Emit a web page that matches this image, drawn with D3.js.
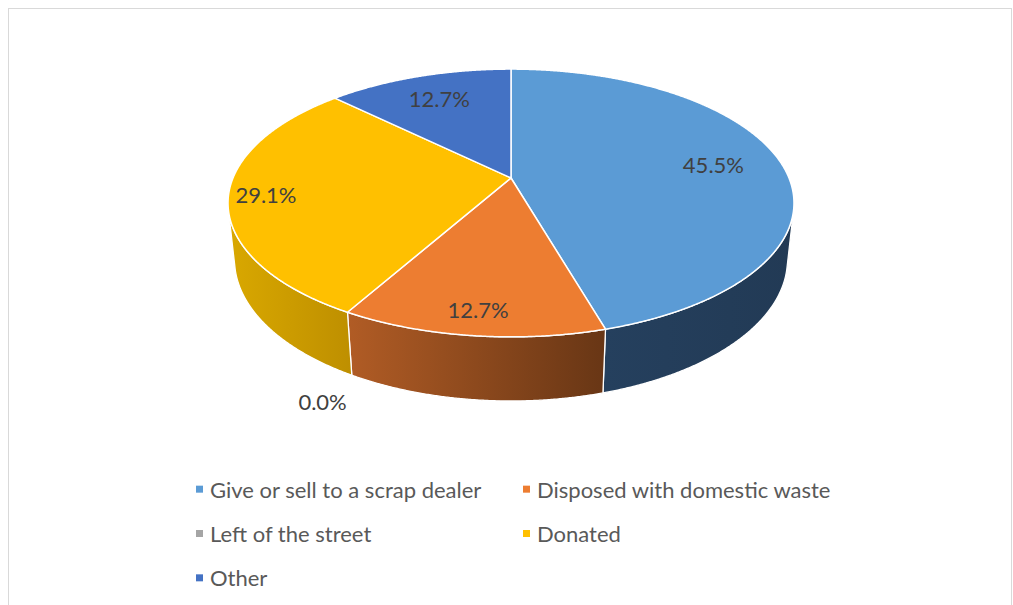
<!DOCTYPE html>
<html>
<head>
<meta charset="utf-8">
<script src="https://cdn.jsdelivr.net/npm/d3@7"></script>
<style>
  html, body { margin: 0; padding: 0; background: #ffffff; }
  svg { display: block; }
  text { font-family: Lato, "Open Sans", sans-serif; }
</style>
</head>
<body>
<svg id="chart" width="1013" height="605"></svg>
<script>
// Disposal of old items (share of respondents)
const categories = [
  "Give or sell to a scrap dealer",
  "Disposed with domestic waste",
  "Left of the street",
  "Donated",
  "Other"
];
const shares = [45.5, 12.7, 0.0, 29.1, 12.7];
const valueLabels = ["45.5%", "12.7%", "0.0%", "29.1%", "12.7%"];

const topColors  = ["#5B9BD5", "#ED7D31", "#A5A5A5", "#FFC000", "#4472C4"];
// side walls: light (left) to dark (right)
const sideColors = [
  ["#25405E", "#223A55"],
  ["#B15C25", "#683615"],
  ["#8C8C8C", "#6E6E6E"],
  ["#D9A800", "#BE8F00"],
  ["#3A62A8", "#2E4F88"]
];

const svg = d3.select("#chart");

// chart frame
svg.append("rect")
  .attr("x", 8.5).attr("y", 8.5)
  .attr("width", 1003).attr("height", 640)
  .attr("fill", "#ffffff")
  .attr("stroke", "#D9D9D9").attr("stroke-width", 1);

// --- perspective view of a tilted disc -------------------------------
const cx = 511, cy = 178;          // screen position of the pie centre
const R = 1;                       // disc radius (world units)
const dist = 4.744;                // camera distance
const focal = 1318.8;              // focal length in px
const tilt = 27.7 * Math.PI / 180; // elevation of the view
const thick = 0.2325;              // thickness of the pie
const sT = Math.sin(tilt), cT = Math.cos(tilt);

// a: angle clockwise from 12 o'clock, rho: radius fraction, h: height (0 = top)
function project(a, rho, h) {
  const x = R * rho * Math.sin(a);
  const yd = -R * rho * Math.cos(a);
  const Y = yd * sT - h * cT;
  const Z = dist - yd * cT - h * sT;
  return [cx + focal * x / Z, cy + focal * Y / Z];
}

// side wall faces the camera where cos(a) < -R/(dist*cos(tilt))
const visLimit = Math.acos(-R / (dist * cT));
const visMin = visLimit, visMax = 2 * Math.PI - visLimit;

const pie = d3.pie().sort(null).value(d => d)
  .startAngle(0).endAngle(2 * Math.PI);
const arcs = pie(shares);

const line = d3.line().curve(d3.curveLinear);
const step = Math.PI / 720;
function angleRange(a0, a1) {
  const n = Math.max(2, Math.ceil((a1 - a0) / step));
  return d3.range(n + 1).map(i => a0 + (a1 - a0) * i / n);
}

const defs = svg.append("defs");
sideColors.forEach((c, i) => {
  const g = defs.append("linearGradient")
    .attr("id", "side" + i)
    .attr("x1", 0).attr("y1", 0).attr("x2", 1).attr("y2", 0);
  g.append("stop").attr("offset", "0%").attr("stop-color", c[0]);
  g.append("stop").attr("offset", "100%").attr("stop-color", c[1]);
});

// side walls
const sideG = svg.append("g");
arcs.forEach((d, i) => {
  const a0 = Math.max(d.startAngle, visMin);
  const a1 = Math.min(d.endAngle, visMax);
  if (a1 - a0 <= 1e-6) return;
  const angs = angleRange(a0, a1);
  const pts = angs.map(a => project(a, 1, 0))
    .concat(angs.slice().reverse().map(a => project(a, 1, -thick)));
  sideG.append("path")
    .attr("d", line(pts) + "Z")
    .attr("fill", `url(#side${i})`)
    .attr("stroke", "#ffffff")
    .attr("stroke-width", 1.3)
    .attr("stroke-linejoin", "round");
});

// top faces
const topG = svg.append("g");
arcs.forEach((d, i) => {
  if (d.endAngle - d.startAngle <= 1e-6) return;
  const angs = angleRange(d.startAngle, d.endAngle);
  const pts = [project(0, 0, 0)].concat(angs.map(a => project(a, 1, 0)));
  topG.append("path")
    .attr("d", line(pts) + "Z")
    .attr("fill", topColors[i])
    .attr("stroke", "#ffffff")
    .attr("stroke-width", 1.5)
    .attr("stroke-linejoin", "round");
});

// data labels: radius fraction and level for each slice
const labelPlace = [
  { rho: 0.75, h: 0 },
  { rho: 0.86, h: 0 },
  { rho: 1.15, h: -thick },
  { rho: 0.87, h: 0 },
  { rho: 0.75, h: 0 }
];
const labelG = svg.append("g");
arcs.forEach((d, i) => {
  const mid = (d.startAngle + d.endAngle) / 2;
  const p = project(mid, labelPlace[i].rho, labelPlace[i].h);
  labelG.append("text")
    .attr("x", p[0]).attr("y", p[1])
    .attr("text-anchor", "middle")
    .attr("dominant-baseline", "central")
    .attr("font-size", 22)
    .attr("fill", "#404040")
    .text(valueLabels[i]);
});

// legend, two columns
const legendX = [196, 523];
const legendY = d3.scaleBand().domain(d3.range(3)).range([467, 600]);
const legend = svg.append("g");
categories.forEach((name, i) => {
  const col = i % 2, row = Math.floor(i / 2);
  const x = legendX[col];
  const y = legendY(row) + legendY.bandwidth() / 2;
  legend.append("rect")
    .attr("x", x).attr("y", y - 3.5)
    .attr("width", 7).attr("height", 7)
    .attr("fill", topColors[i]);
  legend.append("text")
    .attr("x", x + 14).attr("y", y)
    .attr("dominant-baseline", "central")
    .attr("font-size", 22)
    .attr("fill", "#595959")
    .text(name);
});
</script>
</body>
</html>
